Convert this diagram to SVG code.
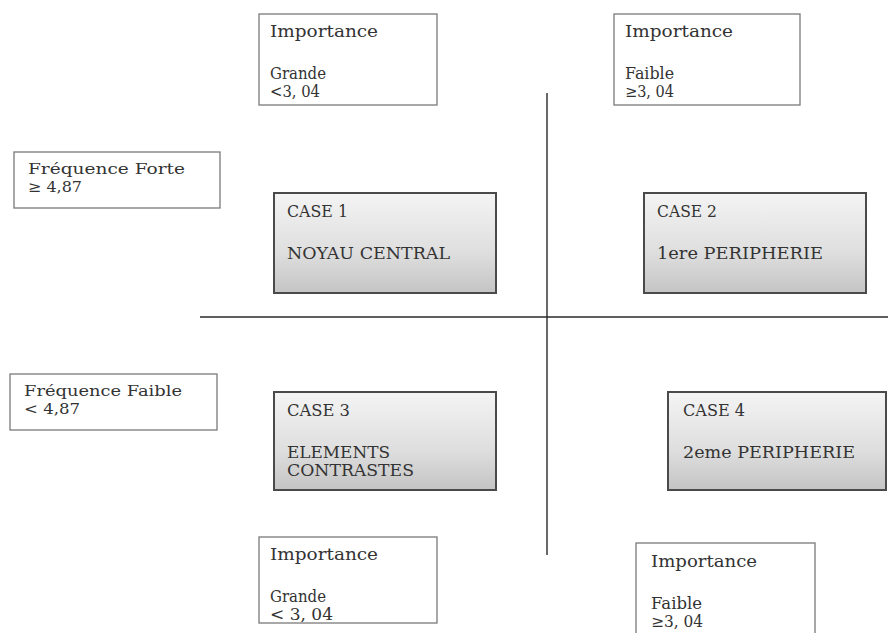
<svg xmlns="http://www.w3.org/2000/svg" width="888" height="633" viewBox="0 0 888 633">
<defs>
<linearGradient id="g" x1="0" y1="0" x2="0" y2="1">
<stop offset="0" stop-color="#f4f4f4"/>
<stop offset="0.6" stop-color="#dedede"/>
<stop offset="1" stop-color="#c4c4c4"/>
</linearGradient>
</defs>
<style>
.w{fill:#fff;stroke:#7a7a7a;stroke-width:1.3}
.c{fill:url(#g);stroke:#4a4a4a;stroke-width:2}
text{font-family:"DejaVu Serif","Liberation Serif",serif;font-size:16px;fill:#333}
.s{font-size:15px}
.ln{stroke:#2a2a2a;stroke-width:1.4;fill:none}
</style>
<rect width="888" height="633" fill="#fff"/>
<g id="connectors">
<line class="ln" x1="200" y1="317" x2="888" y2="317"/>
<line class="ln" x1="547" y1="93" x2="547" y2="555"/>
</g>
<g id="imp-top-left">
<rect class="w" x="259" y="14" width="178" height="91"/>
<text x="270" y="37" textLength="108" lengthAdjust="spacingAndGlyphs">Importance</text>
<text x="270" y="79" textLength="56" lengthAdjust="spacingAndGlyphs">Grande</text>
<text x="270" y="97" textLength="50" lengthAdjust="spacingAndGlyphs">&lt;3, 04</text>
</g>
<g id="imp-top-right">
<rect class="w" x="614" y="14" width="186" height="91"/>
<text x="625" y="37" textLength="108" lengthAdjust="spacingAndGlyphs">Importance</text>
<text x="625" y="79" textLength="49" lengthAdjust="spacingAndGlyphs">Faible</text>
<text x="625" y="97" textLength="49" lengthAdjust="spacingAndGlyphs">≥3, 04</text>
</g>
<g id="freq-forte">
<rect class="w" x="14" y="152" width="206" height="56"/>
<text class="s" x="28" y="174" textLength="157" lengthAdjust="spacingAndGlyphs">Fréquence Forte</text>
<text class="s" x="28" y="192" textLength="54" lengthAdjust="spacingAndGlyphs">≥ 4,87</text>
</g>
<g id="case1">
<rect class="c" x="274" y="193" width="222" height="100"/>
<text x="287" y="217" textLength="61" lengthAdjust="spacingAndGlyphs">CASE 1</text>
<text x="287" y="259" textLength="163" lengthAdjust="spacingAndGlyphs">NOYAU CENTRAL</text>
</g>
<g id="case2">
<rect class="c" x="644" y="193" width="222" height="100"/>
<text x="657" y="217" textLength="60" lengthAdjust="spacingAndGlyphs">CASE 2</text>
<text x="657" y="259" textLength="166" lengthAdjust="spacingAndGlyphs">1ere PERIPHERIE</text>
</g>
<g id="freq-faible">
<rect class="w" x="10" y="374" width="207" height="56"/>
<text class="s" x="24" y="396" textLength="158" lengthAdjust="spacingAndGlyphs">Fréquence Faible</text>
<text class="s" x="24" y="414" textLength="56" lengthAdjust="spacingAndGlyphs">&lt; 4,87</text>
</g>
<g id="case3">
<rect class="c" x="274" y="392" width="222" height="98"/>
<text x="287" y="416" textLength="63" lengthAdjust="spacingAndGlyphs">CASE 3</text>
<text x="287" y="458" textLength="103" lengthAdjust="spacingAndGlyphs">ELEMENTS</text>
<text x="287" y="476" textLength="127" lengthAdjust="spacingAndGlyphs">CONTRASTES</text>
</g>
<g id="case4">
<rect class="c" x="668" y="392" width="218" height="98"/>
<text x="683" y="416" textLength="62" lengthAdjust="spacingAndGlyphs">CASE 4</text>
<text x="683" y="458" textLength="172" lengthAdjust="spacingAndGlyphs">2eme PERIPHERIE</text>
</g>
<g id="imp-bottom-left">
<rect class="w" x="259" y="537" width="178" height="86"/>
<text x="270" y="560" textLength="108" lengthAdjust="spacingAndGlyphs">Importance</text>
<text x="270" y="602" textLength="56" lengthAdjust="spacingAndGlyphs">Grande</text>
<text x="270" y="620" textLength="63" lengthAdjust="spacingAndGlyphs">&lt; 3, 04</text>
</g>
<g id="imp-bottom-right">
<rect class="w" x="636" y="543" width="179" height="100"/>
<text x="651" y="567" textLength="106" lengthAdjust="spacingAndGlyphs">Importance</text>
<text x="651" y="609" textLength="51" lengthAdjust="spacingAndGlyphs">Faible</text>
<text x="651" y="627" textLength="52" lengthAdjust="spacingAndGlyphs">≥3, 04</text>
</g>
</svg>
